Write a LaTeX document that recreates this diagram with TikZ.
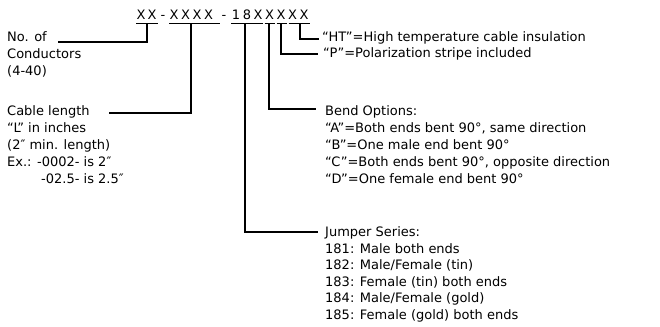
\documentclass[tikz,border=0pt]{standalone}
\usepackage{fontspec}
\setmainfont{DejaVu Sans}
\begin{document}
\begin{tikzpicture}[x=1pt,y=-1pt,
  lbl/.style={anchor=base west, inner sep=0pt, font=\fontsize{13}{15}\selectfont},
  ch/.style={anchor=base, inner sep=0pt, font=\fontsize{13}{15}\selectfont},
  conn/.style={line width=1.1pt},
  uline/.style={line width=1.4pt}]
\useasboundingbox (0,0) rectangle (660,326);
% code characters
\node[ch] (a1) at (141,20) {X};
\node[ch] (a2) at (152,20) {X};
\node[ch] (d1) at (163,20) {-};
\node[ch] (b1) at (174,20) {X};
\node[ch] (b2) at (185.5,20) {X};
\node[ch] (b3) at (197,20) {X};
\node[ch] (b4) at (208.5,20) {X};
\node[ch] (d2) at (224,20) {-};
\node[ch] (e1) at (236,20) {1};
\node[ch] (e2) at (247,20) {8};
\node[ch] (e3) at (258,20) {X};
\node[ch] (f1) at (269.5,20) {X};
\node[ch] (g1) at (281,20) {X};
\node[ch] (h1) at (292.5,20) {X};
\node[ch] (h2) at (304,20) {X};
% underlines
\draw[uline] (136,23.5) -- (158,23.5);
\draw[uline] (169,23.5) -- (220,23.5);
\draw[uline] (231,23.5) -- (263,23.5);
\draw[uline] (264.5,23.5) -- (275,23.5);
\draw[uline] (276.5,23.5) -- (287,23.5);
\draw[uline] (288.5,23.5) -- (310,23.5);
\coordinate (sA) at (147,24);
\coordinate (sB) at (191,24);
\coordinate (sE) at (245,24);
\coordinate (sF) at (269,24);
\coordinate (sG) at (281,24);
\coordinate (sH) at (300,24);
% left texts
\node[lbl] (n1) at (7,42) {No. of};
\node[lbl] (n2) at (7,59) {Conductors};
\node[lbl] (n3) at (7,76) {(4-40)};
\node[lbl] (l1) at (7,115) {Cable length};
\node[lbl] (l2) at (7,132) {“L” in inches};
\node[lbl] (l3) at (7,149) {(2″ min. length)};
\node[lbl] (l4) at (7,166) {Ex.: -0002- is 2″};
\node[lbl] (l5) at (41,183) {-02.5- is 2.5″};
% right texts
\node[lbl] (r1) at (322,42) {“HT”=High temperature cable insulation};
\node[lbl] (r2) at (323,58) {“P”=Polarization stripe included};
\node[lbl] (k0) at (325,115) {Bend Options:};
\node[lbl] (k1) at (325,132) {“A”=Both ends bent 90°, same direction};
\node[lbl] (k2) at (325,149) {“B”=One male end bent 90°};
\node[lbl] (k3) at (325,166) {“C”=Both ends bent 90°, opposite direction};
\node[lbl] (k4) at (325,183) {“D”=One female end bent 90°};
\node[lbl] (j0) at (325,236) {Jumper Series:};
\node[lbl] (j1) at (325,253) {181: Male both ends};
\node[lbl] (j2) at (325,269) {182: Male/Female (tin)};
\node[lbl] (j3) at (325,286) {183: Female (tin) both ends};
\node[lbl] (j4) at (325,302) {184: Male/Female (gold)};
\node[lbl] (j5) at (325,319) {185: Female (gold) both ends};
% connector free ends
\coordinate (tA) at (58,42);
\coordinate (tB) at (109,113);
\coordinate (tE) at (318,232);
\coordinate (tF) at (316,109);
\coordinate (tG) at (318,54);
\coordinate (tH) at (319,39);
\draw[conn] (sA) |- (tA);
\draw[conn] (sB) |- (tB);
\draw[conn] (sE) |- (tE);
\draw[conn] (sF) |- (tF);
\draw[conn] (sG) |- (tG);
\draw[conn] (sH) |- (tH);
\end{tikzpicture}
\end{document}
